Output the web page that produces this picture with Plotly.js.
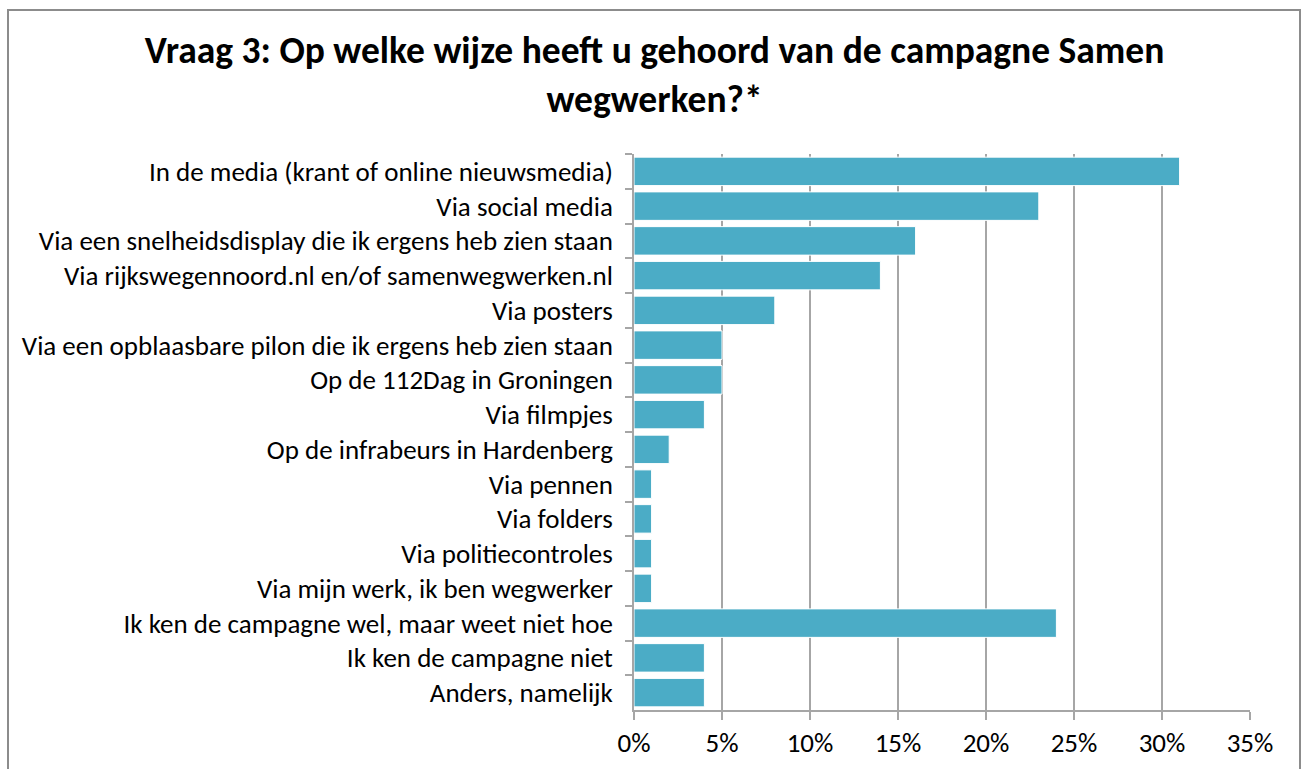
<!DOCTYPE html>
<html>
<head>
<meta charset="utf-8">
<script src="https://cdn.plot.ly/plotly-3.0.1.min.js"></script>
<style>
html,body{margin:0;padding:0;background:#fff;}
#chart{width:1309px;height:769px;position:relative;}
#frame{position:absolute;left:7px;top:9px;width:1294px;height:800px;border:2px solid #8c8c8c;box-sizing:border-box;pointer-events:none;}
</style>
</head>
<body>
<div id="chart"></div>
<div id="frame"></div>
<script>
const categories = [
  "In de media (krant of online nieuwsmedia)",
  "Via social media",
  "Via een snelheidsdisplay die ik ergens heb zien staan",
  "Via rijkswegennoord.nl en/of samenwegwerken.nl",
  "Via posters",
  "Via een opblaasbare pilon die ik ergens heb zien staan",
  "Op de 112Dag in Groningen",
  "Via filmpjes",
  "Op de infrabeurs in Hardenberg",
  "Via pennen",
  "Via folders",
  "Via politiecontroles",
  "Via mijn werk, ik ben wegwerker",
  "Ik ken de campagne wel, maar weet niet hoe",
  "Ik ken de campagne niet",
  "Anders, namelijk"
];
const percentages = [31, 23, 16, 14, 8, 5, 5, 4, 2, 1, 1, 1, 1, 24, 4, 4];
const titleText = "Vraag 3: Op welke wijze heeft u gehoord van de campagne Samen<br>wegwerken?*";

const fontFam = "Carlito, Calibri, 'Open Sans', 'Liberation Sans', sans-serif";

Plotly.newPlot('chart', [{
  type: 'bar',
  orientation: 'h',
  x: percentages,
  y: categories,
  marker: {color: '#4bacc6', line: {color: '#ffffff', width: 1}},
  hoverinfo: 'x+y'
}], {
  width: 1309, height: 769,
  margin: {l: 634, r: 59, t: 154, b: 59},
  paper_bgcolor: '#ffffff', plot_bgcolor: '#ffffff',
  bargap: 0.18,
  showlegend: false,
  font: {family: fontFam, color: '#000000', size: 27},
  title: {
    text: '<b>' + titleText + '</b>',
    x: 0.5, xref: 'container', xanchor: 'center',
    y: 0.918, yref: 'container', yanchor: 'middle',
    font: {family: fontFam, size: 37.5, color: '#000000'}
  },
  xaxis: {
    range: [0, 35], dtick: 5, tick0: 0, ticksuffix: '%',
    showgrid: true, gridcolor: '#a6a6a6', gridwidth: 1.5,
    showline: true, linecolor: '#a6a6a6', linewidth: 1.5,
    ticks: 'outside', ticklen: 8, tickcolor: '#a6a6a6', tickwidth: 1.5,
    zeroline: false, fixedrange: true,
    tickfont: {family: fontFam, size: 27, color: '#000000'}
  },
  yaxis: {
    type: 'category', autorange: 'reversed',
    showline: true, linecolor: '#a6a6a6', linewidth: 1.5,
    ticks: 'outside', ticklen: 7, tickcolor: '#a6a6a6', tickwidth: 1.5,
    tickson: 'boundaries', ticklabelstandoff: 14,
    showgrid: false, fixedrange: true,
    tickfont: {family: fontFam, size: 27, color: '#000000'}
  }
}, {displayModeBar: false, staticPlot: false});
</script>
</body>
</html>
